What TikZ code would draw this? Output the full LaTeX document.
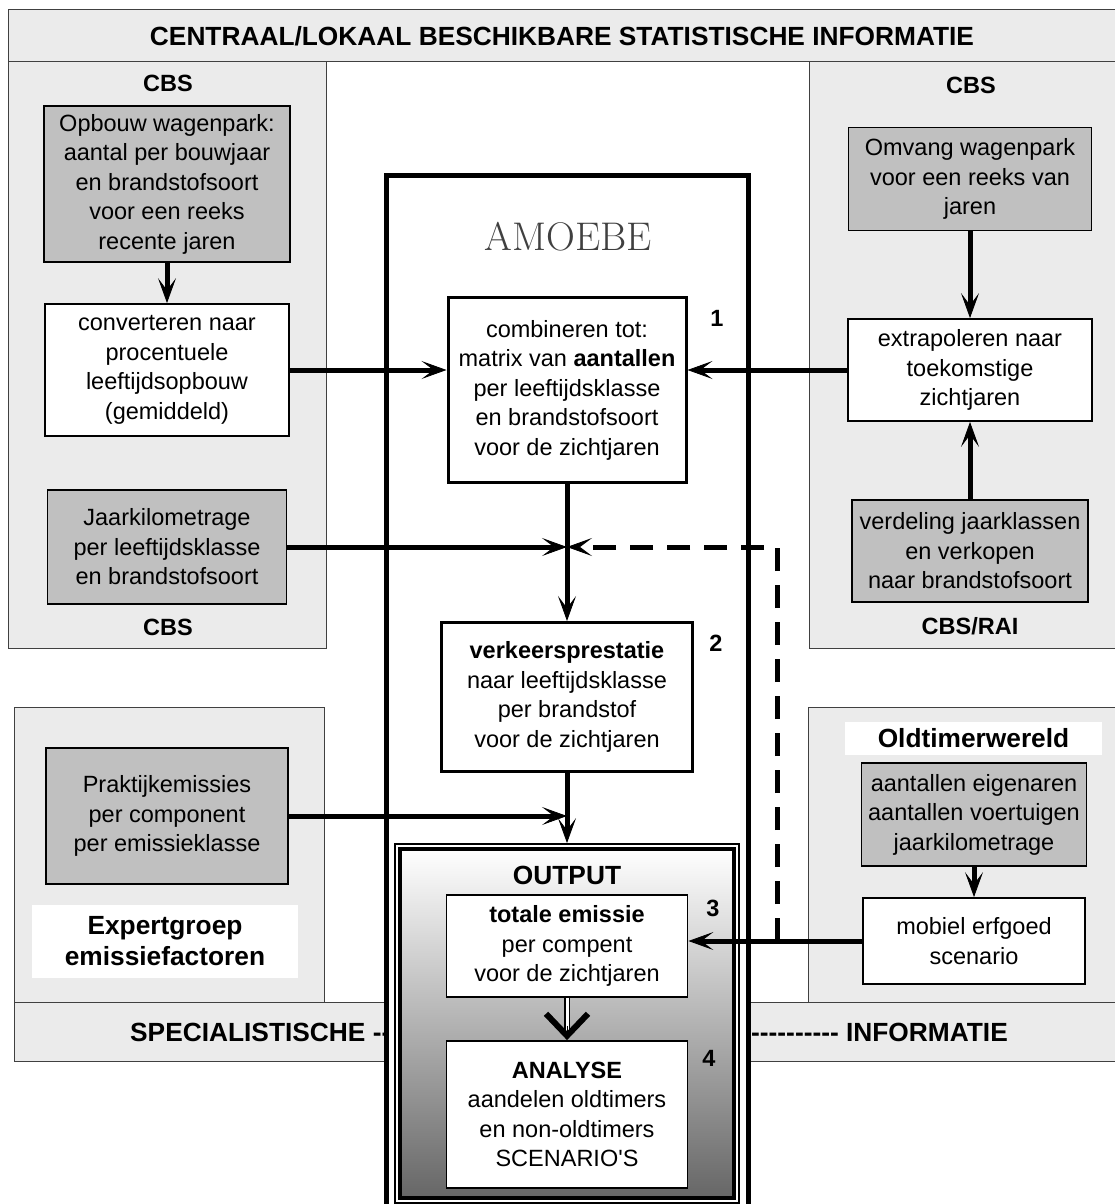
\documentclass[tikz,border=0pt]{standalone}
\usepackage{fontspec}
\setmainfont{Liberation Sans}[Ligatures=TeXOff]
\newfontfamily\amoebefont{Latin Modern Roman}
\usepackage{xcolor}
\usepackage{tikz}
\usetikzlibrary{arrows.meta, calc}
\definecolor{panelgray}{RGB}{235, 235, 235}
\definecolor{datagray}{RGB}{192, 192, 192}
\newcommand{\boxfont}{\fontsize{23.5}{29.5}\selectfont}
\newcommand{\headfont}{\bfseries\fontsize{26.3}{31}\selectfont}
\tikzset{
	rule/.style={draw=black!75, line width=1pt},
	panel/.style={rule, fill=panelgray},
	databox/.style={draw, line width=1.5pt, fill=datagray, align=center, inner sep=0pt, font=\boxfont},
	stepbox/.style={draw, line width=1.8pt, fill=white, align=center, inner sep=0pt, font=\boxfont},
	modelbox/.style={draw, line width=3pt, fill=white, align=center, inner sep=0pt, font=\boxfont},
	source/.style={font=\bfseries\boxfont},
	heading/.style={font=\headfont, inner sep=0pt},
	flow/.style={line width=5pt, -{Stealth[length=25pt, width=18pt, inset=12pt, line width=0.8pt]}},
}

\begin{document}
\begin{tikzpicture}[x=1pt, y=-1pt]
			\clip (0,0) rectangle (1115,1204);
			\useasboundingbox (0,0) rectangle (1115,1204);
			\fill[white] (0,0) rectangle (1115,1204);
			\draw[panel] (8,10) -- (1130,10) -- (1130,648) -- (809,648) -- (809,62) -- (326,62) -- (326,648) -- (8,648) -- cycle;
			\draw[rule] (8,62) -- (1130,62);
			\draw[panel] (14,707) -- (324,707) -- (324,1002) -- (808,1002) -- (808,707) -- (1130,707) -- (1130,1061) -- (14,1061) -- cycle;
			\draw[rule] (14,1002) -- (1130,1002);
			\node[heading] (title) at (562,36) {CENTRAAL/LOKAAL BESCHIKBARE STATISTISCHE INFORMATIE};
			\node[heading, anchor=west] (speca) at (130,1032) {SPECIALISTISCHE --};
			\node[heading, anchor=west] (specb) at (751,1032) {---------- INFORMATIE};
			\node[draw, line width=5pt, fill=white, minimum width=362pt, minimum height=1040pt, inner sep=0pt] (amoebe) at (567,695) {};
			\node[font=\amoebefont\fontsize{40}{42}\selectfont, text=black!75] (amtitle) at (568,237) {AMOEBE};

			\node[source] (cbsa) at (168,83) {CBS};
			\node[databox, minimum width=246pt, minimum height=156pt] (opb) at (167,184) {Opbouw wagenpark:\\aantal per bouwjaar\\en brandstofsoort\\voor een reeks\\recente jaren};
			\node[stepbox, minimum width=244pt, minimum height=132pt] (conv) at (167,370) {converteren naar\\procentuele\\leeftijdsopbouw\\(gemiddeld)};
			\node[databox, minimum width=239pt, minimum height=114pt] (jaar) at (167,547) {Jaarkilometrage\\per leeftijdsklasse\\en brandstofsoort};
			\node[source] (cbsb) at (168,627) {CBS};

			\node[source] (cbsc) at (971,85) {CBS};
			\node[databox, minimum width=243pt, minimum height=103pt] (omv) at (970,179) {Omvang wagenpark\\voor een reeks van\\jaren};
			\node[stepbox, minimum width=244pt, minimum height=102pt] (extra) at (970,370) {extrapoleren naar\\toekomstige\\zichtjaren};
			\node[databox, minimum width=236pt, minimum height=102pt] (verd) at (970,551) {verdeling jaarklassen\\en verkopen\\naar brandstofsoort};
			\node[source] (cbsrai) at (970,626) {CBS/RAI};

			\node[modelbox, minimum width=238pt, minimum height=185pt] (comb) at (567,390) {combineren tot:\\matrix van \textbf{aantallen}\\per leeftijdsklasse\\en brandstofsoort\\voor de zichtjaren};
			\node[source] (n1) at (717,318) {1};
			\node[modelbox, minimum width=251pt, minimum height=149pt] (verk) at (567,697) {\textbf{verkeersprestatie}\\naar leeftijdsklasse\\per brandstof\\voor de zichtjaren};
			\node[source] (n2) at (716,643) {2};

			\node[draw, line width=1.8pt, fill=white, minimum width=344pt, minimum height=359pt, inner sep=0pt] (outfr) at (567,1023.5) {};
			\draw[line width=4pt, top color=white, bottom color=black!60] ($(outfr.north west)+(6,6)$) rectangle ($(outfr.south east)+(-6,-6)$);
			\node[heading] (outlbl) at (567,875) {OUTPUT};
			\node[stepbox, minimum width=241pt, minimum height=102pt] (tot) at (567,946) {\textbf{totale emissie}\\per compent\\voor de zichtjaren};
			\node[source] (n3) at (713,908) {3};
			\node[stepbox, minimum width=241pt, minimum height=147pt] (ana) at (567,1114.5) {\textbf{ANALYSE}\\aandelen oldtimers\\en non-oldtimers\\SCENARIO'S};
			\node[source] (n4) at (709,1058) {4};

			\node[databox, minimum width=242pt, minimum height=136pt] (prak) at (167,816) {Praktijkemissies\\per component\\per emissieklasse};
			\node[heading, fill=white, minimum width=266pt, minimum height=73pt, align=center] (expert) at (165,941.5) {Expertgroep\\emissiefactoren};
			\node[heading, fill=white, minimum width=257pt, minimum height=33pt] (oldt) at (973.5,738.5) {Oldtimerwereld};
			\node[databox, minimum width=225pt, minimum height=103pt] (aant) at (974,814.5) {aantallen eigenaren\\aantallen voertuigen\\jaarkilometrage};
			\node[stepbox, minimum width=222pt, minimum height=86pt] (mob) at (974,941) {mobiel erfgoed\\scenario};

			\coordinate (jmid) at (comb.south |- jaar.east);
			\coordinate (jlow) at (verk.south |- prak.east);
			\coordinate (split) at (777,941);
			\draw[flow] (opb) -- (conv);
			\draw[flow] (conv.east) -- (conv.east -| comb.west);
			\draw[flow] (omv) -- (extra);
			\draw[flow] (verd) -- (extra);
			\draw[flow] (extra.west) -- (extra.west -| comb.east);
			\draw[flow] (comb) -- (verk);
			\draw[flow] (jaar.east) -- (jmid);
			\draw[flow, dash pattern=on 23pt off 14pt] (split) |- (jmid);
			\draw[flow] (verk) -- (outfr);
			\draw[flow] (prak.east) -- (jlow);
			\draw[flow] (aant) -- (mob);
			\draw[flow] (mob.west) -- (mob.west -| tot.east);
			\draw[line width=1.5pt, double distance=3pt, shorten >=10pt] (tot) -- (ana);
			\draw[line width=0.2pt, shorten <=28pt, -{Straight Barb[length=22pt, width=42pt, line width=6pt]}] (tot) -- (ana);
		\end{tikzpicture}
\end{document}
